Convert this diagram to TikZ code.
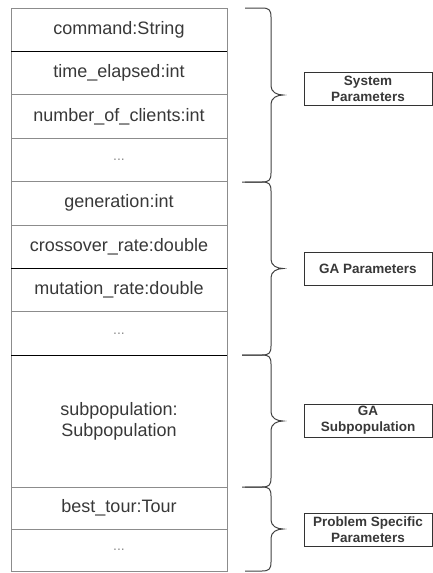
\documentclass[tikz,border=0pt]{standalone}
\usepackage{fontspec}
\setmainfont{Liberation Sans}
\usetikzlibrary{positioning}
\definecolor{linegray}{rgb}{0.55, 0.55, 0.55}
\definecolor{textgray}{rgb}{0.22, 0.22, 0.22}

\tikzset{
	field/.style={draw=linegray, line width=0.8pt, minimum width=216pt, minimum height=43.4pt, inner sep=0pt, outer sep=0pt, text=textgray, font=\fontsize{18}{21}\selectfont, align=center},
	morefield/.style={field, text=black!45, font=\fontsize{14}{16}\selectfont},
	grouplabel/.style={draw=black!80, line width=0.9pt, minimum width=128pt, minimum height=33pt, inner sep=0pt, text=textgray, font=\fontsize{13.5}{16}\selectfont\bfseries, align=center},
	divline/.style={black, line width=1.2pt},
	bracepath/.style={draw=black!75, line width=1pt},
}

% brace from top #1 to bottom #2, arms starting at x=#3
\newcommand{\groupbrace}[3]{%
	\pgfmathsetmacro{\bracemid}{(#1+#2)/2}
	\draw[bracepath] (#3,#1) -- (262,#1) .. controls (269,#1) and (271,{#1+2}) .. (271,{#1+9})
		-- (271,{\bracemid-9}) .. controls (271,{\bracemid-3}) and (277,\bracemid) .. (283,\bracemid)
		.. controls (277,\bracemid) and (271,{\bracemid+3}) .. (271,{\bracemid+9})
		-- (271,{#2-9}) .. controls (271,{#2-2}) and (269,#2) .. (262,#2) -- (#3,#2);
}

\begin{document}
\begin{tikzpicture}[x=1pt, y=-1pt]
	\useasboundingbox (0,0) rectangle (433,573);

	% fields of the message
	\node [field] (cmd) at (119,29.7) {command:String};
	\node [field, below=0pt of cmd] (elapsed) {time\_elapsed:int};
	\node [field, below=0pt of elapsed] (clients) {number\_of\_clients:int};
	\node [morefield, below=0pt of clients] (sysmore) {...};
	\node [field, below=0pt of sysmore] (gen) {generation:int};
	\node [field, below=0pt of gen] (xover) {crossover\_rate:double};
	\node [field, below=0pt of xover] (mutation) {mutation\_rate:double};
	\node [morefield, below=0pt of mutation] (gamore) {...};
	\node [field, below=0pt of gamore, minimum height=132pt] (subpop) {subpopulation:\\Subpopulation};
	\node [field, below=0pt of subpop, minimum height=42pt] (besttour) {best\_tour:Tour};
	\node [morefield, below=0pt of besttour, minimum height=42pt] (probmore) {...};

	\draw [divline] (cmd.south west) -- (cmd.south east);
	\draw [divline] (xover.south west) -- (xover.south east);
	\draw [divline] (gamore.south west) -- (gamore.south east);

	% groups
	\groupbrace{8}{182}{245}
	\groupbrace{182}{355}{242}
	\groupbrace{355}{487}{242}
	\groupbrace{487}{571}{245}

	\node [grouplabel] (sysparams) at (368,88.5) {System\\Parameters};
	\node [grouplabel] (gaparams) at (368,268.5) {GA Parameters};
	\node [grouplabel] (gasubpop) at (368,420.5) {GA\\Subpopulation};
	\node [grouplabel] (probparams) at (368,529.5) {Problem Specific\\Parameters};
\end{tikzpicture}
\end{document}
